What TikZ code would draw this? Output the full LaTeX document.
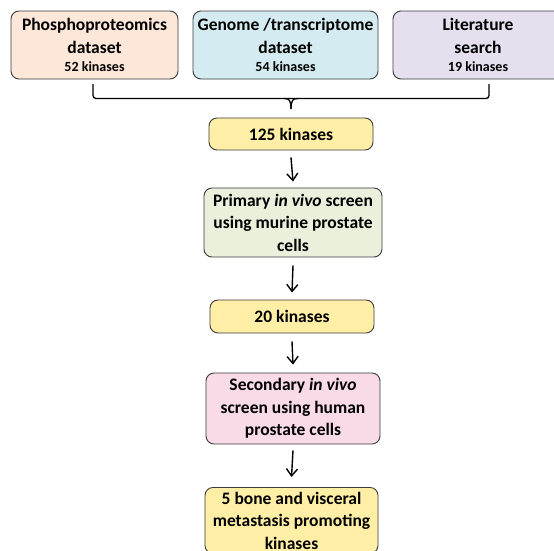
\documentclass[tikz,border=0pt]{standalone}
\usepackage{fontspec}
\setmainfont{Carlito}
\usetikzlibrary{arrows.meta}
\definecolor{peach}{HTML}{FDE7D9}
\definecolor{lblue}{HTML}{D4ECF1}
\definecolor{lav}{HTML}{E6E0EE}
\definecolor{lyel}{HTML}{FFEFA6}
\definecolor{lgreen}{HTML}{EBF0DD}
\definecolor{lpink}{HTML}{F9DAE7}
\definecolor{bord}{HTML}{3A3A3A}
\tikzset{
  box/.style={draw=bord, line width=0.9pt, rounded corners=8pt, align=center,
    font=\fontsize{17.5}{22.5}\selectfont\bfseries, inner sep=0pt},
  arr/.style={-{Straight Barb[length=7pt,width=11pt]}, line width=1.4pt}
}
\newcommand{\kin}[1]{{\fontsize{14}{15}\selectfont #1}}
\begin{document}
\begin{tikzpicture}[x=1pt,y=-1pt]
\useasboundingbox (0,0) rectangle (554,550);
% top boxes
\node[box, fill=peach, minimum width=167pt, minimum height=68pt] (p) at (94.5,45)
  {Phosphoproteomics\\dataset\\[-4pt]\kin{52 kinases}};
\node[box, fill=lblue, minimum width=185pt, minimum height=68pt] (g) at (285.5,45)
  {Genome /transcriptome\\dataset\\[-4pt]\kin{54 kinases}};
\begin{scope}
\clip (0,0) rectangle (554,550);
\node[box, fill=lav, minimum width=170pt, minimum height=68pt] (l) at (478,45)
  {Literature\\search\\[-4pt]\kin{19 kinases}};
% brace
\coordinate (bl) at (93,84);
\coordinate (br) at (489,84);
\coordinate (bm) at (291,109);
\draw[line width=1.3pt, rounded corners=3pt] (bl) |- (291,98.5) -| (br);
\draw[line width=1.3pt] (284,98.5) .. controls (289,98.5) and (291,100) .. (bm);
\draw[line width=1.3pt] (298,98.5) .. controls (293,98.5) and (291,100) .. (bm);
% flow
\node[box, fill=lyel, minimum width=164pt, minimum height=32pt] (k125) at (291,134) {125 kinases};
\node[box, fill=lgreen, minimum width=178pt, minimum height=69pt] (prim) at (293,222.5)
  {Primary \textit{in vivo} screen\\using murine prostate\\cells};
\node[box, fill=lyel, minimum width=164pt, minimum height=33pt] (k20) at (292,316.5) {20 kinases};
\node[box, fill=lpink, minimum width=174pt, minimum height=71pt] (sec) at (293,408.5)
  {Secondary \textit{in vivo}\\screen using human\\prostate cells};
\node[box, fill=lyel, minimum width=173pt, minimum height=66pt, anchor=north] (fin) at (291.5,487)
  {5 bone and visceral\\metastasis promoting\\kinases};
\end{scope}
\draw[arr] ([yshift=-7pt]k125.south) -- ([yshift=6pt]prim.north);
\draw[arr] ([yshift=-8pt]prim.south) -- ([yshift=7pt]k20.north);
\draw[arr] ([yshift=-8pt]k20.south) -- ([yshift=8pt]sec.north);
\draw[arr] ([yshift=-6pt]sec.south) -- ([yshift=10pt]fin.north);
\end{tikzpicture}
\end{document}
